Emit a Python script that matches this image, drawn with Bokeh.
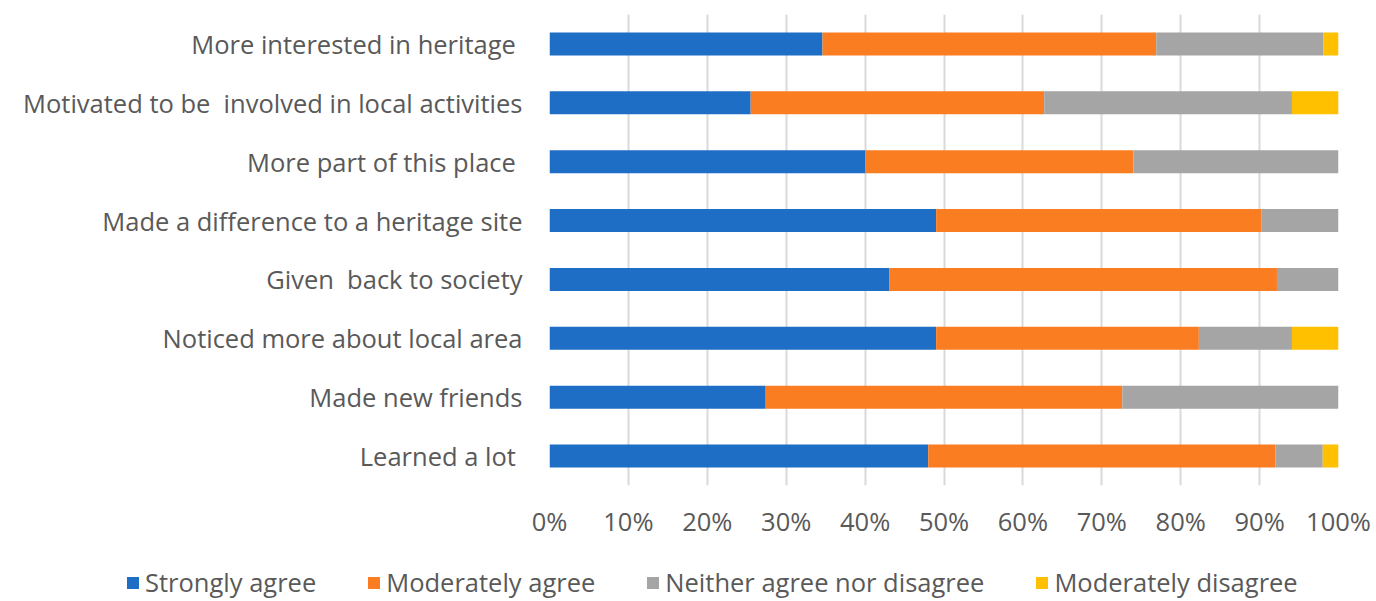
from bokeh.plotting import figure
from bokeh.layouts import column
from bokeh.models import FactorRange, Range1d, PrintfTickFormatter, FixedTicker, Legend, LegendItem, ColumnDataSource
from bokeh.embed import file_html
from bokeh.resources import INLINE

categories = [
    "More interested in heritage\u00a0",
    "Motivated to be \u00a0involved in local activities",
    "More part of this place\u00a0",
    "Made a difference to a heritage site",
    "Given \u00a0back to society",
    "Noticed more about local area",
    "Made new friends",
    "Learned a lot\u00a0",
]
strongly_agree = [34.6, 25.5, 40.0, 49.0, 43.1, 49.0, 27.4, 48.0]
moderately_agree = [42.3, 37.2, 34.0, 41.2, 49.1, 33.3, 45.2, 44.0]
neither = [21.2, 31.4, 26.0, 9.8, 7.8, 11.8, 27.4, 6.0]
moderately_disagree = [1.9, 5.9, 0.0, 0.0, 0.0, 5.9, 0.0, 2.0]
series_names = ["Strongly agree", "Moderately agree", "Neither agree nor disagree", "Moderately disagree"]
tick_values = [0, 10, 20, 30, 40, 50, 60, 70, 80, 90, 100]
colors = ["#1f6ec6", "#fb7d22", "#a5a5a5", "#ffc000"]

keys = ["sa", "ma", "ne", "md"]
src = ColumnDataSource(dict(
    cat=categories, sa=strongly_agree, ma=moderately_agree, ne=neither, md=moderately_disagree,
))

FONT = "Open Sans"
FS = "25.5px"
TXT = "#595959"

p = figure(
    width=1376, height=555, output_backend="svg", toolbar_location=None,
    y_range=FactorRange(factors=list(reversed(categories))),
    x_range=Range1d(0, 100),
    min_border_left=549, min_border_right=38, min_border_top=14, min_border_bottom=70,
    outline_line_color=None, frame_align=False,
)
renderers = p.hbar_stack(keys, y="cat", height=0.39, color=colors, source=src, line_width=0)

p.xaxis.ticker = FixedTicker(ticks=tick_values)
p.xaxis.formatter = PrintfTickFormatter(format="%d%%")
for ax in (p.xaxis[0], p.yaxis[0]):
    ax.axis_line_color = None
    ax.major_tick_line_color = None
    ax.minor_tick_line_color = None
    ax.major_label_text_font = FONT
    ax.major_label_text_font_size = FS
    ax.major_label_text_color = TXT
p.xaxis.major_label_standoff = 12
p.yaxis.major_label_standoff = 21

p.xgrid.ticker = FixedTicker(ticks=tick_values)
p.xgrid.grid_line_color = "#d9d9d9"
p.xgrid.grid_line_width = 2
p.ygrid.grid_line_color = None

# Legend strip below the chart (its own frame spans the full width)
lg = figure(
    width=1376, height=46, output_backend="svg", toolbar_location=None,
    x_range=Range1d(0, 1), y_range=Range1d(0, 1),
    x_axis_type=None, y_axis_type=None,
    min_border_left=0, min_border_right=0, min_border_top=0, min_border_bottom=0,
    outline_line_color=None, frame_align=False,
)
lg.grid.visible = False
# swatch renderers: one series value each, kept outside the strip's visible range
swatch_src = ColumnDataSource(dict(cat=[-5.0], sa=[strongly_agree[0]], ma=[moderately_agree[0]],
                                   ne=[neither[0]], md=[moderately_disagree[0]]))
swatches = lg.hbar_stack(keys, y="cat", height=0.5, color=colors, source=swatch_src, line_width=0)
legend = Legend(
    items=[LegendItem(label=n, renderers=[r]) for n, r in zip(series_names, swatches)],
    orientation="horizontal",
    location=(125, 2),
    glyph_width=15, glyph_height=15, label_standoff=5, spacing=50, label_height=30,
    padding=0, margin=0, border_line_color=None, background_fill_alpha=0,
    label_text_font=FONT, label_text_font_size=FS, label_text_color=TXT,
)
lg.add_layout(legend, "center")

layout = column(p, lg, spacing=0)
open("out.html", "w").write(file_html(layout, INLINE))
